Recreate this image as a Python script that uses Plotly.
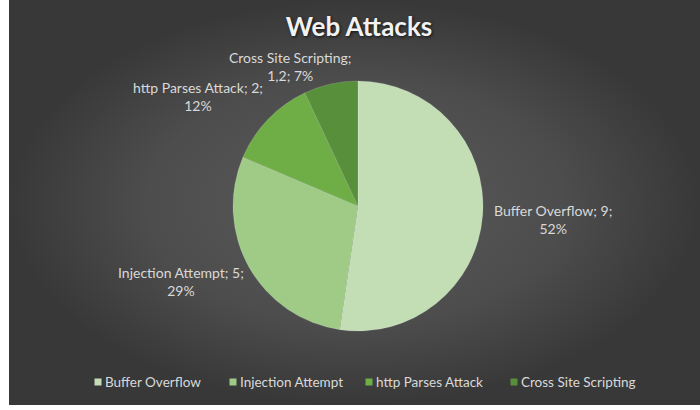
import plotly.graph_objects as go

labels = ["Buffer Overflow", "Injection Attempt", "http Parses Attack", "Cross Site Scripting"]
values = [9, 5, 2, 1.2]
colors = ["#c3ddb5", "#9fcb87", "#6fae47", "#578f3a"]
title_text = "Web Attacks"

total = sum(values)

def fmt(v):
    return ("%g" % v).replace(".", ",")

label_texts = []
for lab, v in zip(labels, values):
    pct = round(v / total * 100)
    label_texts.append((lab, fmt(v), pct))

W, H = 700, 410
fig = go.Figure()

# background panel with radial gradient
fig.add_trace(go.Scatter(
    x=[9, 700, 700, 9, 9], y=[0, 0, 405, 405, 0],
    mode="lines", line=dict(width=0), fill="toself",
    fillgradient=dict(type="radial",
                      colorscale=[[0, "#5a5a5a"], [0.6, "#4d4d4d"], [1, "#383838"]]),
    hoverinfo="skip", showlegend=False,
))

cx, cy, r = 358, 206, 125
fig.add_trace(go.Pie(
    labels=labels, values=values, sort=False, direction="clockwise", rotation=0,
    marker=dict(colors=colors, line=dict(color="rgba(255,255,255,0.25)", width=0.6)),
    textinfo="none", hoverinfo="label+value+percent", showlegend=False,
    domain=dict(x=[(cx - r) / W, (cx + r) / W], y=[(H - cy - r) / H, (H - cy + r) / H]),
))

# label positions (pixel coordinates of text centers)
pos = {
    "Buffer Overflow": (553, 219),
    "Injection Attempt": (181, 281),
    "http Parses Attack": (198, 96),
    "Cross Site Scripting": (290, 66),
}
annotations = []
for lab, vs, pct in label_texts:
    if lab == "Cross Site Scripting":
        txt = f"{lab};<br>{vs}; {pct}%"
    else:
        txt = f"{lab}; {vs};<br>{pct}%"
    x, y = pos[lab]
    annotations.append(dict(x=x, y=y, xref="x", yref="y", text=txt, showarrow=False,
                            font=dict(family="Lato", size=14, color="#d9d9d9"),
                            align="center", xanchor="center", yanchor="middle"))

# manual legend (marker squares + text)
legend_x = [98, 233, 369, 514]
legend_y = 382
shapes = []
for lab, col, lx in zip(labels, colors, legend_x):
    shapes.append(dict(type="rect", xref="x", yref="y", x0=lx - 3.5, x1=lx + 3.5,
                       y0=legend_y - 3.5, y1=legend_y + 3.5, fillcolor=col, line=dict(width=0)))
    annotations.append(dict(x=lx + 5, y=legend_y, xref="x", yref="y", text=lab, showarrow=False,
                            font=dict(family="Lato", size=13.5, color="#d9d9d9"),
                            xanchor="left", yanchor="middle"))

fig.update_layout(
    width=W, height=H, margin=dict(l=0, r=0, t=0, b=0),
    paper_bgcolor="white", plot_bgcolor="rgba(0,0,0,0)",
    xaxis=dict(range=[0, W], visible=False, fixedrange=True, domain=[0, 1]),
    yaxis=dict(range=[H, 0], visible=False, fixedrange=True, domain=[0, 1]),
    title=dict(text=f"<b>{title_text}</b>", x=359 / W, xanchor="center", y=1 - 27 / H, yanchor="middle",
               font=dict(family="Lato", size=26, color="#f2f2f2", shadow="1px 1px 3px #111")),
    annotations=annotations,
    shapes=shapes,
    showlegend=False,
)

fig.write_html("out.html")
